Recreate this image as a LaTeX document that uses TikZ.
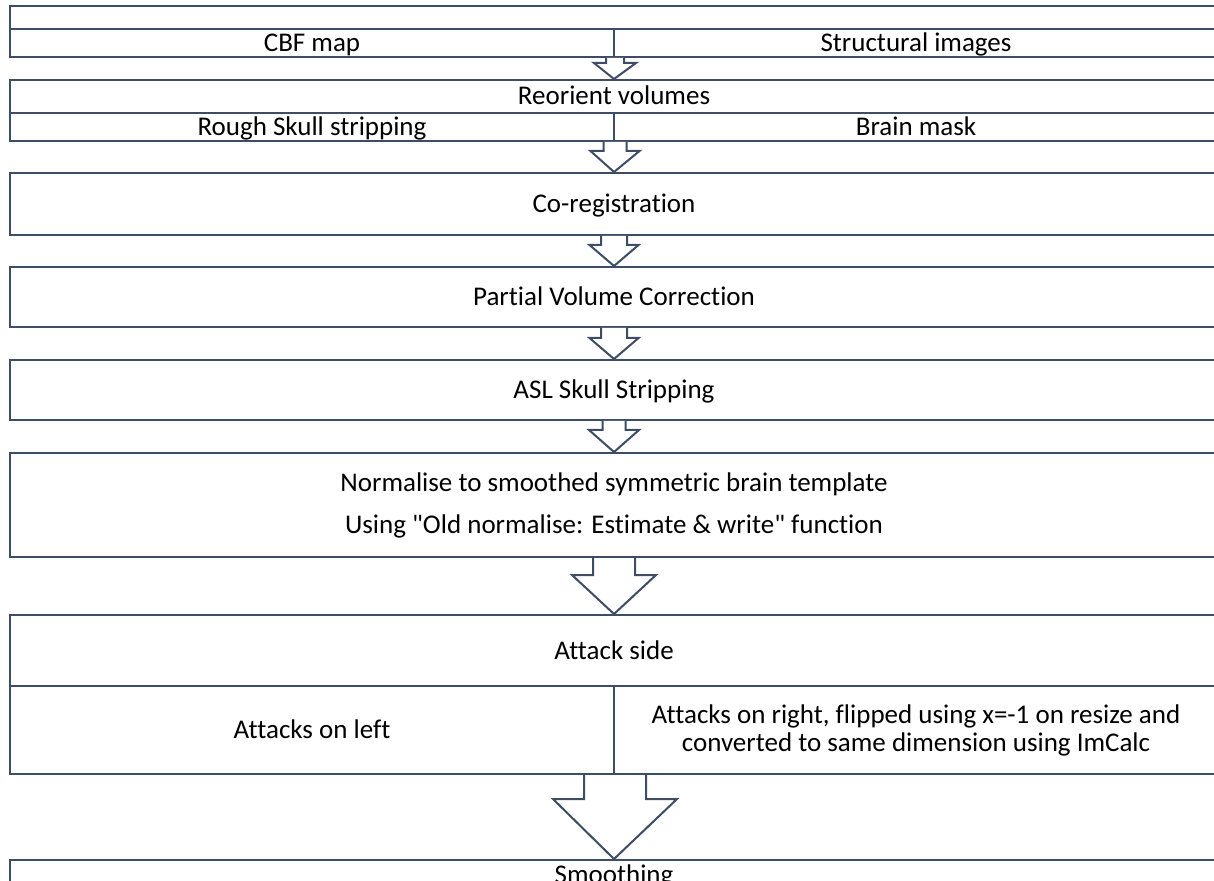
\documentclass[tikz,border=0pt]{standalone}
\usepackage{fontspec}
\setmainfont{Carlito}[Ligatures={TeXOff,NoCommon}, RawFeature={-calt}]
\usepackage{tikz}
\usetikzlibrary{calc}
\usetikzlibrary{positioning}

\definecolor{boxline}{HTML}{3E4C66}

\tikzset{
  stage/.style={draw=boxline, line width=1pt, fill=white, inner sep=0pt,
    minimum width=604pt, font=\fontsize{13.5}{16}\selectfont,
    text height=10.5pt, text depth=2pt, align=center},
  halfstage/.style={stage, minimum width=302pt},
  twolines/.style={text height=, text depth=},
  blockline/.style={draw=boxline, line width=1pt, fill=white, line join=miter}
}

% block arrow: start, tip, shaft half width, head half width, shaft length
\newcommand{\blockarrow}[5]{
  \filldraw[blockline] ($(#1)+(-#3,0)$) -- ($(#1)+(-#3,#5)$) -- ($(#1)+(-#4,#5)$)
    -- (#2) -- ($(#1)+(#4,#5)$) -- ($(#1)+(#3,#5)$) -- ($(#1)+(#3,0)$);
}

\begin{document}
\begin{tikzpicture}[x=0.5pt, y=-0.5pt]

  \useasboundingbox (0,0) rectangle (1214,881);

  % Inputs
  \node[stage, minimum height=10.5pt] (inputs) at (614,18.5) {};
  \node[halfstage, minimum height=14pt] (cbf) at (312,43) {CBF map};
  \node[halfstage, minimum height=14pt] (struct) at (916,43) {Structural images};

  % Reorientation
  \node[stage, minimum height=16.5pt] (reorient) at (614,96.5) {Reorient volumes};
  \node[halfstage, minimum height=14pt] (rough) at (312,127) {Rough Skull stripping};
  \node[halfstage, minimum height=14pt] (mask) at (916,127) {Brain mask};

  % Single steps
  \node[stage, minimum height=31pt] (coreg) at (614,204) {Co-registration};
  \node[stage, minimum height=30pt] (pvc) at (614,297) {Partial Volume Correction};
  \node[stage, minimum height=30pt] (asl) at (614,390) {ASL Skull Stripping};
  \node[stage, twolines, minimum height=52pt] (norm) at (614,505)
    {Normalise to smoothed symmetric brain template\\[5pt]
     Using "Old normalise: Estimate \& write" function};

  % Attack side
  \node[stage, minimum height=35.5pt] (side) at (614,650.5) {Attack side};
  \node[halfstage, minimum height=44pt] (left) at (312,730) {Attacks on left};
  \node[halfstage, twolines, minimum height=44pt] (right) at (916,730)
    {Attacks on right, flipped using x=-1 on resize and\\[-2pt]
     converted to same dimension using ImCalc};

  % Last step, cut off below
  \node[stage, anchor=north, text height=11.5pt, text depth=50pt] (smooth) at (614,859) {Smoothing};

  % Block arrows between the steps
  \blockarrow{cbf.south east}{reorient.north}{9}{21}{5}
  \blockarrow{rough.south east}{coreg.north}{11.5}{24.5}{9}
  \blockarrow{coreg.south}{pvc.north}{13}{24.5}{9}
  \blockarrow{pvc.south}{asl.north}{13}{24.5}{10}
  \blockarrow{asl.south}{norm.north}{11.5}{25}{9}
  \blockarrow{norm.south}{side.north}{21}{42}{17}
  \blockarrow{left.south east}{smooth.north}{31}{62}{24}

\end{tikzpicture}
\end{document}
